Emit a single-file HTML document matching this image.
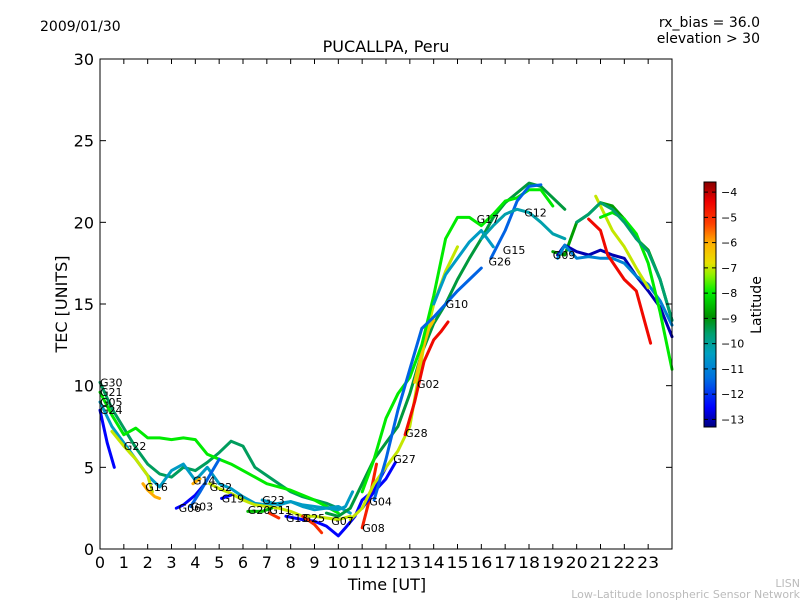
<!DOCTYPE html>
<html><head><meta charset="utf-8"><style>
body{margin:0;background:#fff;}
svg{display:block;font-family:"DejaVu Sans","Liberation Sans",sans-serif;}
</style></head><body>
<svg id="chart" width="800" height="600" viewBox="0 0 800 600" xmlns="http://www.w3.org/2000/svg">
<defs>
<linearGradient id="cmap" x1="0" y1="1" x2="0" y2="0">
<stop offset="0" stop-color="#000080"/><stop offset="0.08" stop-color="#0000ff"/>
<stop offset="0.2" stop-color="#0070e0"/><stop offset="0.3" stop-color="#00a0c0"/>
<stop offset="0.38" stop-color="#00a070"/><stop offset="0.45" stop-color="#009000"/>
<stop offset="0.55" stop-color="#00ee00"/><stop offset="0.62" stop-color="#90f000"/>
<stop offset="0.67" stop-color="#e8e000"/><stop offset="0.75" stop-color="#ffb000"/>
<stop offset="0.83" stop-color="#ff4000"/><stop offset="0.92" stop-color="#ee0000"/>
<stop offset="1" stop-color="#880000"/>
</linearGradient>
</defs>
<text x="40" y="31" font-size="14">2009/01/30</text>
<text x="760" y="27" font-size="14" text-anchor="end">rx_bias = 36.0</text>
<text x="760" y="43" font-size="14" text-anchor="end">elevation &gt; 30</text>
<text x="386" y="52" font-size="16" text-anchor="middle">PUCALLPA, Peru</text>
<g id="marks"></g>
<g id="axes"></g>
<rect x="100" y="59" width="572" height="490" fill="none" stroke="#000" stroke-width="1"/>
<text x="387" y="590" font-size="16" text-anchor="middle">Time [UT]</text>
<text transform="translate(67,304) rotate(-90)" font-size="16" text-anchor="middle">TEC [UNITS]</text>
<rect x="704" y="182" width="12" height="245" fill="url(#cmap)" stroke="#000" stroke-width="1"/>
<g id="cbticks"></g>
<text transform="translate(761,305) rotate(-90)" font-size="14" text-anchor="middle">Latitude</text>
<text x="800" y="587" font-size="11" fill="#bbb" text-anchor="end">LISN</text>
<text x="800" y="598" font-size="11" fill="#bbb" text-anchor="end">Low-Latitude Ionospheric Sensor Network</text>
</svg>
<script>
const xTicks=[0,1,2,3,4,5,6,7,8,9,10,11,12,13,14,15,16,17,18,19,20,21,22,23];
const yTicks=[0,5,10,15,20,25,30];
const cbTicks=[-4,-5,-6,-7,-8,-9,-10,-11,-12,-13];
const satNames=["G30","G21","G05","G24","G22","G16","G06","G03","G14","G32","G19","G20","G23","G11","G13","G25","G07","G08","G04","G27","G28","G02","G17","G10","G26","G15","G12","G09","G31","G18","G29","G01","G33","G34"];
const satLats=[-9.5,-8,-10.5,-12.5,-7,-6,-12.5,-11.5,-6,-7,-12.5,-8.5,-10.5,-5,-12.5,-5,-9.3,-4.8,-12.5,-7,-4.5,-6.3,-8,-11.5,-10.5,-11.5,-10.2,-8.8,-13,-11,-4.5,-7,-8,-9.6];
const labelT=[0,0,0,0,1,1.9,3.3,3.8,3.9,4.6,5.1,6.2,6.8,7.1,7.8,8.5,9.7,11.0,11.3,12.3,12.8,13.3,15.8,14.5,16.3,16.9,17.8,19.0];
const labelV=[10.2,9.6,9,8.5,6.3,3.8,2.5,2.6,4.2,3.8,3.1,2.4,3.0,2.4,1.9,1.9,1.7,1.3,2.9,5.5,7.1,10.1,20.2,15.0,17.6,18.3,20.6,18.0];
const satTimes=[
[0,0.5,1,1.5,2,2.5,3,3.5,4,4.5,5,5.5,6,6.5,7,7.5,8,8.5,9,9.5,10],
[0,0.5,1,1.5,2,2.5,3,3.5,4,4.5,5,5.5,6,6.5,7,7.5,8,8.5,9,9.5,10],
[0,0.5,1,1.5,2,2.5,3,3.5,4,4.5,5,5.5,6,6.5,7,7.5,8,8.5,9,9.5,10,10.3,10.6],
[0,0.3,0.6],
[0.5,1,1.5,2,2.2],
[1.8,2,2.3,2.5],
[3.2,3.5,4,4.4],
[3.8,4.2,4.6,5],
[3.9,4.2],
[4.6,5,5.5,6,6.5,7,7.5,8,8.5,9,9.5,10,10.5],
[5.1,5.5],
[6.2,6.8,7.2],
[6.8,7.5,8,8.5,9,9.5,10,10.5],
[7.1,7.5],
[7.8,8.5,9,9.5,10,10.3,10.7,11,11.5,12],
[8.5,9,9.3],
[9.5,10,10.5,11,11.5,12,12.5,13,13.5,14,14.5,15,15.5,16,16.5,17,17.5,18,18.5,19,19.5],
[11,11.3,11.6],
[11,11.5,12,12.4],
[10.5,11,11.5,12,12.5,13,13.3,13.6,14,14.5,15],
[12.8,13.2,13.6,14,14.3,14.6],
[13.2,13.5,13.8,14],
[11,11.5,12,12.5,13,13.5,14,14.5,15,15.5,16,16.5,17,17.5,18,18.5,19],
[11.5,12,12.5,13,13.5,14,14.5,15,15.5,16],
[14,14.5,15,15.5,16,16.5],
[16.4,17,17.5,18,18.5],
[16,16.5,17,17.5,18,18.5,19,19.5],
[19,19.5,20,20.5,21,21.5,22,22.5,23,23.5,24],
[19.2,19.5,20,20.5,21,21.5,22,22.5,23,23.5,24],
[19.2,19.5,20,20.5,21,21.5,22,22.5,23,23.5,24],
[20.5,21,21.3,22,22.5,23.1],
[20.8,21,21.5,22,22.5,23],
[21,21.5,22,22.5,23,23.5,24],
[20,20.5,21,21.5,22,22.5,23,23.5,24]
];
const satTec=[
[10.2,8.6,7.4,6.2,5.2,4.6,4.4,5.0,4.8,5.3,5.9,6.6,6.3,5.0,4.5,4.0,3.5,3.2,3.0,2.8,2.5],
[9.6,8.2,7.0,7.4,6.8,6.8,6.7,6.8,6.7,5.8,5.5,5.2,4.8,4.4,4.0,3.8,3.6,3.3,3.0,2.6,2.2],
[9,7.5,6.5,5.5,4.5,3.8,4.8,5.2,4.2,5.0,4.0,3.7,3.2,2.8,2.7,2.8,2.9,2.7,2.6,2.5,2.4,2.6,3.5],
[8.5,6.5,5.0],
[7.2,6.3,5.5,4.5,3.5],
[4.0,3.6,3.2,3.1],
[2.5,2.7,3.3,4.0],
[2.6,3.5,4.5,5.5],
[4.0,4.3],
[4.0,3.7,3.4,3.0,2.7,2.6,2.5,2.3,2.0,2.0,1.9,1.8,2.0],
[3.1,3.3],
[2.3,2.3,2.5],
[3.0,2.7,2.9,2.6,2.4,2.5,2.6,2.2],
[2.2,1.9],
[2.0,1.8,1.7,1.4,0.8,1.3,2.0,3.0,3.6,5.0],
[2.0,1.5,1.0],
[2.2,2.0,2.5,4.0,5.5,6.5,7.5,9.5,12,13.8,15,16.5,17.8,19.0,20.3,21.2,21.8,22.4,22.2,21.5,20.8],
[1.3,3,5.2],
[2.5,3.5,4.3,5.3],
[1.8,2.5,4.0,5.0,6.0,7.5,10,12.5,15,17,18.5],
[7.0,9,11.5,12.8,13.3,13.9],
[10.2,12,13.5,14],
[3.5,5.5,8,9.5,10.5,12.5,15.5,19,20.3,20.3,19.8,20.5,21.3,21.5,22,22,21],
[3,5.5,8.5,11,13.5,14.2,15,15.8,16.5,17.2],
[15,16.8,17.8,18.8,19.5,18.5],
[17.8,19.5,21.3,22.2,22.3],
[19,19.8,20.5,20.8,20.6,20,19.3,19.0],
[18.2,18.0,20.0,20.5,21.2,21,20.2,19,18.3,16.5,14],
[18,18.6,18.2,18.0,18.3,18.0,17.8,16.7,15.8,14.8,13],
[17.8,18.6,17.8,17.9,17.8,17.8,17.5,16.7,16.2,15.2,13.7],
[20.2,19.5,18,16.5,15.8,12.6],
[21.6,21.0,19.5,18.5,17.2,16],
[20.3,20.6,20.2,19.3,17.5,14.5,11],
[20,20.5,21.2,20.8,20,19,18.2,16.5,14]
];
const NS="http://www.w3.org/2000/svg";
const X0=100,X1=672,Y0=549,Y1=59;
function xs(t){return X0+(t/24)*(X1-X0);}
function ys(v){return Y0-(v/30)*(Y0-Y1);}
const stops=[[0,[0,0,128]],[0.08,[0,0,255]],[0.2,[0,112,224]],[0.3,[0,160,192]],[0.38,[0,160,112]],[0.45,[0,144,0]],[0.55,[0,238,0]],[0.62,[144,240,0]],[0.67,[232,224,0]],[0.75,[255,176,0]],[0.83,[255,64,0]],[0.92,[238,0,0]],[1,[136,0,0]]];
function cmap(lat){let f=(lat+13.3)/9.7;f=Math.max(0,Math.min(1,f));
for(let i=1;i<stops.length;i++){if(f<=stops[i][0]){const a=stops[i-1],b=stops[i];const u=(f-a[0])/(b[0]-a[0]);const c=a[1].map((v,k)=>Math.round(v+(b[1][k]-v)*u));return `rgb(${c[0]},${c[1]},${c[2]})`;}}return "rgb(136,0,0)";}
const marks=document.getElementById('marks');
satNames.forEach((n,i)=>{
 const p=document.createElementNS(NS,'polyline');
 p.setAttribute('points',satTimes[i].map((t,k)=>xs(t).toFixed(1)+','+ys(satTec[i][k]).toFixed(1)).join(' '));
 p.setAttribute('fill','none');p.setAttribute('stroke',cmap(satLats[i]));p.setAttribute('stroke-width','3');
 p.setAttribute('stroke-linejoin','round');p.setAttribute('stroke-linecap','round');
 
 
 marks.appendChild(p);
});
labelT.forEach((t,i)=>{
 const tx=document.createElementNS(NS,'text');
 tx.setAttribute('x',xs(t).toFixed(1));tx.setAttribute('y',(ys(labelV[i])+4).toFixed(1));
 tx.setAttribute('font-size','11');tx.textContent=satNames[i];
 
 
 marks.appendChild(tx);
});
const axes=document.getElementById('axes');
function line(x1,y1,x2,y2,g){const l=document.createElementNS(NS,'line');l.setAttribute('x1',x1);l.setAttribute('y1',y1);l.setAttribute('x2',x2);l.setAttribute('y2',y2);l.setAttribute('stroke','#000');l.setAttribute('stroke-width','1');g.appendChild(l);return l;}
xTicks.forEach(t=>{
 const x=xs(t);
 const a=line(x,Y0,x,Y0-5,axes);
 
 
 const b=line(x,Y1,x,Y1+5,axes);
 
 
 const tx=document.createElementNS(NS,'text');tx.setAttribute('x',x);tx.setAttribute('y',568);tx.setAttribute('font-size','16');tx.setAttribute('text-anchor','middle');
 if(t>=10){tx.setAttribute('textLength','22');tx.setAttribute('lengthAdjust','spacingAndGlyphs');}
 tx.textContent=String(t);
 
 
 axes.appendChild(tx);
});
yTicks.forEach(v=>{
 const y=ys(v);
 const a=line(X0,y,X0+6,y,axes);
 
 
 const b=line(X1,y,X1-6,y,axes);
 
 
 const tx=document.createElementNS(NS,'text');tx.setAttribute('x',94);tx.setAttribute('y',y+6);tx.setAttribute('font-size','16');tx.setAttribute('text-anchor','end');
 tx.textContent=String(v);
 
 
 axes.appendChild(tx);
});
const cb=document.getElementById('cbticks');
cbTicks.forEach(v=>{
 const y=427-(v+13.3)/9.7*245;
 const a=line(704,y,708,y,cb);
 
 
 const b=line(716,y,712,y,cb);
 
 
 const tx=document.createElementNS(NS,'text');tx.setAttribute('x',721);tx.setAttribute('y',y+4);tx.setAttribute('font-size','11');
 tx.textContent='\u2212'+Math.abs(v);
 
 
 cb.appendChild(tx);
});
</script>
</body></html>
